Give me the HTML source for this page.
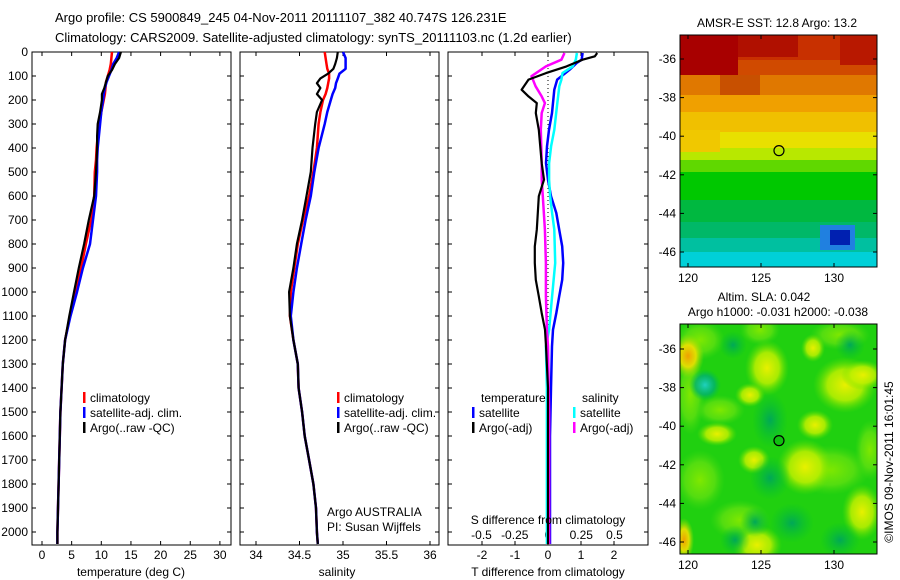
<!DOCTYPE html>
<html><head><meta charset="utf-8">
<style>
html,body{margin:0;padding:0;background:#fff;}
svg{display:block;font-family:"Liberation Sans",sans-serif;}
text{fill:#000;}
</style></head>
<body>
<svg id="fig" width="900" height="580" viewBox="0 0 900 580" xmlns="http://www.w3.org/2000/svg">
<defs>
<radialGradient id="gy" cx="50%" cy="50%" r="50%"><stop offset="0%" stop-color="#e8f000"/><stop offset="55%" stop-color="#c0f000" stop-opacity="0.85"/><stop offset="100%" stop-color="#60e000" stop-opacity="0"/></radialGradient>
<radialGradient id="gl" cx="50%" cy="50%" r="50%"><stop offset="0%" stop-color="#80e800"/><stop offset="60%" stop-color="#60e010" stop-opacity="0.8"/><stop offset="100%" stop-color="#40d810" stop-opacity="0"/></radialGradient>
<radialGradient id="go" cx="50%" cy="50%" r="50%"><stop offset="0%" stop-color="#f0a000"/><stop offset="50%" stop-color="#f0e000" stop-opacity="0.9"/><stop offset="100%" stop-color="#a0e000" stop-opacity="0"/></radialGradient>
<radialGradient id="gd" cx="50%" cy="50%" r="50%"><stop offset="0%" stop-color="#00a858"/><stop offset="100%" stop-color="#00c030" stop-opacity="0"/></radialGradient>
<radialGradient id="gc" cx="50%" cy="50%" r="50%"><stop offset="0%" stop-color="#20d0c0"/><stop offset="60%" stop-color="#00b070" stop-opacity="0.8"/><stop offset="100%" stop-color="#00c040" stop-opacity="0"/></radialGradient>
<clipPath id="m1clip"><rect x="680" y="35" width="197" height="232"/></clipPath>
<clipPath id="m2clip"><rect x="680" y="324" width="197" height="230"/></clipPath>
</defs>
<text x="55" y="22" font-size="13">Argo profile: CS 5900849_245 04-Nov-2011 20111107_382 40.747S 126.231E</text>
<text x="55" y="42" font-size="13">Climatology: CARS2009. Satellite-adjusted climatology: synTS_20111103.nc (1.2d earlier)</text>
<g id="plots"></g>
<g id="maps"></g>
</svg>
<script>
// ---------- data ----------
const tempDepths = [0,25,50,75,100,125,150,175,200,250,300,350,400,450,500,600,700,800,900,1000,1100,1200,1300,1400,1500,1600,1700,1800,1900,2000,2050];
const tempClim   = [11.8,11.7,11.6,11.4,11.1,10.8,10.7,10.6,10.4,10.0,9.7,9.4,9.2,9.1,8.9,8.8,8.3,7.4,6.6,5.7,4.7,3.9,3.5,3.3,3.1,3.0,2.9,2.8,2.7,2.6,2.6];
const tempSat    = [13.0,12.6,12.0,11.7,11.3,10.9,10.6,10.4,10.3,10.0,9.8,9.6,9.4,9.3,9.3,9.1,8.6,8.1,6.9,5.9,4.8,3.9,3.5,3.3,3.1,3.0,2.9,2.8,2.7,2.6,2.6];
const tempArgo   = [13.3,13.0,12.3,11.8,11.1,10.8,10.5,10.1,10.1,9.8,9.4,9.3,9.3,9.2,9.1,8.8,7.9,7.1,6.2,5.4,4.6,3.9,3.5,3.3,3.1,3.0,2.9,2.8,2.7,2.6,2.6];
const salDepths  = [0,25,50,70,90,110,130,150,175,200,250,300,400,500,600,700,800,900,1000,1100,1200,1300,1400,1500,1600,1700,1800,1900,2000,2050];
const salClim    = [34.79,34.80,34.81,34.82,34.84,34.84,34.83,34.82,34.80,34.77,34.74,34.72,34.70,34.66,34.61,34.54,34.48,34.44,34.40,34.39,34.43,34.48,34.49,34.53,34.56,34.61,34.66,34.69,34.70,34.71];
const salSat     = [35.00,35.03,35.03,35.03,34.96,34.94,34.92,34.91,34.88,34.86,34.82,34.79,34.72,34.67,34.63,34.57,34.52,34.47,34.43,34.40,34.43,34.48,34.49,34.53,34.56,34.61,34.66,34.69,34.70,34.71];
const salArgo    = [34.94,34.93,34.91,34.89,34.83,34.74,34.70,34.74,34.70,34.76,34.70,34.68,34.65,34.63,34.58,34.53,34.47,34.43,34.38,34.39,34.43,34.48,34.49,34.53,34.56,34.61,34.66,34.69,34.70,34.71];
const dTSatDepths = [4,32,46,74,115,157,254,324,393,463,532,601,671,740,810,879,949,1018,1088,1157,1226,1400,1600,1800,2000,2050];
const dTSat       = [1.05,1.02,0.87,0.65,0.28,0.19,0.12,0.03,-0.03,-0.06,0,0.09,0.25,0.34,0.43,0.46,0.43,0.34,0.25,0.15,0.12,0.09,0.06,0.06,0.06,0.06];
const dTArgoDepths = [4,18,32,60,88,115,157,185,213,254,324,463,532,601,671,740,810,879,949,1018,1088,1157,1226,1400,1600,1800,2000,2050];
const dTArgo       = [1.49,1.42,1.05,0.56,-0.06,-0.59,-0.80,-0.59,-0.34,-0.37,-0.28,-0.19,-0.12,-0.28,-0.31,-0.34,-0.40,-0.40,-0.37,-0.28,-0.19,-0.09,-0.06,0,0,0,0,0];
const dSSatDepths = [4,32,60,88,115,143,213,324,393,463,532,601,671,740,879,1018,1157,1226,1400,1700,2050];
const dSSat       = [0.217,0.209,0.186,0.109,0.101,0.085,0.07,0.047,0.023,0.008,0.008,0.016,0.031,0.047,0.054,0.031,0.008,-0.016,-0.008,-0.008,-0.008];
const dSArgoDepths = [4,32,60,101,143,185,213,254,324,463,532,601,740,879,1018,1157,1226,1500,2050];
const dSArgo       = [0.124,0.101,-0.016,-0.124,-0.093,-0.047,-0.023,-0.047,-0.054,-0.047,-0.047,-0.039,-0.023,-0.016,-0.016,-0.008,0,0.008,0.008];
const depthTicks = [0,100,200,300,400,500,600,700,800,900,1000,1100,1200,1300,1400,1500,1600,1700,1800,1900,2000];
const tempTicks = [0,5,10,15,20,25,30];
const salTicks = [34,34.5,35,35.5,36];
const tdTicks = [-2,-1,0,1,2];
const sdTicks = [-0.5,-0.25,0,0.25,0.5];
const lonTicks = [120,125,130];
const latTicks = [-36,-38,-40,-42,-44,-46];
const argoLon = 126.231, argoLat = -40.747;

// ---------- scales ----------
const NS = "http://www.w3.org/2000/svg";
const yD = d => 52 + d * 0.24;
const xT = t => 42 + t * 5.93;
const xS = s => 256 + (s - 34) * 87;
const xTd = v => 548 + v * 33;
const xSd = v => 548 + v * 133;
const P = document.getElementById('plots');
const M = document.getElementById('maps');
function mk(tag, attrs, parent, txt){
  const e = document.createElementNS(NS, tag);
  for (const k in attrs) e.setAttribute(k, attrs[k]);
  if (txt !== undefined) e.textContent = txt;
  parent.appendChild(e);
  return e;
}
function line(depths, vals, xf, color, w, name){
  const pts = [];
  for (let i = 0; i < depths.length; i++){
    pts.push(xf(vals[i]).toFixed(1) + ',' + yD(depths[i]).toFixed(1));
  }
  const e = mk('polyline', {points: pts.join(' '), fill:'none', stroke:color, 'stroke-width':w, 'stroke-linejoin':'round'}, P);
  
  
}
function panel(x0, x1, name){
  const r = mk('rect', {x:x0, y:52, width:x1-x0, height:493, fill:'none', stroke:'#000', 'stroke-width':1}, P);
  
  
  depthTicks.forEach(d => {
    mk('line', {x1:x0, x2:x0+4, y1:yD(d), y2:yD(d), stroke:'#000'}, P);
    mk('line', {x1:x1, x2:x1-4, y1:yD(d), y2:yD(d), stroke:'#000'}, P);
  });
}
function xticks(ticks, f, x0, labels, yLab, labelled, name){
  ticks.forEach((t,i) => {
    const x = f(t);
    mk('line', {x1:x, x2:x, y1:52, y2:56, stroke:'#000'}, P);
    mk('line', {x1:x, x2:x, y1:545, y2:541, stroke:'#000'}, P);
    if (labelled){
      const e = mk('text', {x:x, y:yLab, 'font-size':12, 'text-anchor':'middle'}, P, labels[i]);
      
      
    }
  });
}
function legendRow(x, y, color, label, name){
  mk('rect', {x:x, y:y-10, width:2.5, height:11, fill:color}, P);
  const e = mk('text', {x:x+7, y:y, 'font-size':12}, P, label);
  
  
}

// panel 1: temperature
panel(32, 231, 'temperature-panel');
depthTicks.forEach(d => {
  const e = mk('text', {x:28, y:yD(d)+4, 'font-size':12, 'text-anchor':'end'}, P, String(d));
  
  
});
xticks(tempTicks, xT, 32, tempTicks.map(String), 559, true, 'temperature-tick-label');
line(tempDepths, tempClim, xT, '#ff0000', 2.5, 'temperature-climatology-line');
line(tempDepths, tempSat, xT, '#0000ff', 2.5, 'temperature-satellite-line');
line(tempDepths, tempArgo, xT, '#000000', 2.2, 'temperature-argo-line');
legendRow(83, 402, '#ff0000', 'climatology', 'legend-climatology');
legendRow(83, 417, '#0000ff', 'satellite-adj. clim.', 'legend-satellite');
legendRow(83, 432, '#000000', 'Argo(..raw -QC)', 'legend-argo');
mk('text', {x:131, y:576, 'font-size':12, 'text-anchor':'middle'}, P, 'temperature (deg C)');

// panel 2: salinity
panel(240, 439, 'salinity-panel');
xticks(salTicks, xS, 240, ['34','34.5','35','35.5','36'], 559, true, 'salinity-tick-label');
line(salDepths, salClim, xS, '#ff0000', 2.5, 'salinity-climatology-line');
line(salDepths, salSat, xS, '#0000ff', 2.5, 'salinity-satellite-line');
line(salDepths, salArgo, xS, '#000000', 2.2, 'salinity-argo-line');
legendRow(337, 402, '#ff0000', 'climatology', 'legend-climatology');
legendRow(337, 417, '#0000ff', 'satellite-adj. clim.', 'legend-satellite');
legendRow(337, 432, '#000000', 'Argo(..raw -QC)', 'legend-argo');
mk('text', {x:327, y:516, 'font-size':12}, P, 'Argo AUSTRALIA');
mk('text', {x:327, y:531, 'font-size':12}, P, 'PI: Susan Wijffels');
mk('text', {x:337, y:576, 'font-size':12, 'text-anchor':'middle'}, P, 'salinity');

// panel 3: differences
panel(448, 648, 'difference-panel');
xticks(tdTicks, xTd, 448, tdTicks.map(String), 559, true, 'tdiff-tick-label');
sdTicks.forEach(v => {
  const e = mk('text', {x:xSd(v), y:539, 'font-size':12, 'text-anchor':'middle'}, P, String(v));
  
  
});
mk('line', {x1:548, x2:548, y1:52, y2:545, stroke:'#000', 'stroke-dasharray':'1,3'}, P);
line(dTSatDepths, dTSat, xTd, '#0000ff', 2.5, 'tdiff-satellite-line');
line(dSSatDepths, dSSat, xSd, '#00ffff', 2.5, 'sdiff-satellite-line');
line(dSArgoDepths, dSArgo, xSd, '#ff00ff', 2.5, 'sdiff-argo-line');
line(dTArgoDepths, dTArgo, xTd, '#000000', 2.2, 'tdiff-argo-line');
mk('text', {x:481, y:402, 'font-size':12}, P, 'temperature');
mk('text', {x:582, y:402, 'font-size':12}, P, 'salinity');
legendRow(472, 417, '#0000ff', 'satellite', 'legend-tdiff-satellite');
legendRow(472, 432, '#000000', 'Argo(-adj)', 'legend-tdiff-argo');
legendRow(573, 417, '#00ffff', 'satellite', 'legend-sdiff-satellite');
legendRow(573, 432, '#ff00ff', 'Argo(-adj)', 'legend-sdiff-argo');
mk('text', {x:548, y:524, 'font-size':12, 'text-anchor':'middle'}, P, 'S difference from climatology');
mk('text', {x:548, y:576, 'font-size':12, 'text-anchor':'middle'}, P, 'T difference from climatology');

// ---------- maps ----------
function mapAxes(top, bottom, lat0y, name, circleFill){
  const xL = lon => 688 + (lon - 120) * 14.6;
  const yL = lat => lat0y + (-36 - lat) * 19.3;
  const r = mk('rect', {x:680, y:top, width:197, height:bottom-top, fill:'none', stroke:'#000'}, M);
  
  
  latTicks.forEach(l => {
    const y = yL(l);
    mk('line', {x1:680, x2:684, y1:y, y2:y, stroke:'#000'}, M);
    mk('line', {x1:877, x2:873, y1:y, y2:y, stroke:'#000'}, M);
    mk('text', {x:676, y:y+4, 'font-size':12, 'text-anchor':'end'}, M, String(l));
  });
  lonTicks.forEach(l => {
    const x = xL(l);
    mk('line', {x1:x, x2:x, y1:top, y2:top+4, stroke:'#000'}, M);
    mk('line', {x1:x, x2:x, y1:bottom, y2:bottom-4, stroke:'#000'}, M);
    mk('text', {x:x, y:bottom+15, 'font-size':12, 'text-anchor':'middle'}, M, String(l));
  });
  const c = mk('circle', {cx:xL(argoLon), cy:yL(argoLat), r:5, fill:circleFill, stroke:'#000', 'stroke-width':1.2}, M);
  
  
}
// SST map
const g1 = mk('g', {'clip-path':'url(#m1clip)'}, M);


const bands = [[35,'#c83000'],[60,'#d04a00'],[75,'#e07800'],[95,'#f0a000'],[112,'#f0c000'],[132,'#e8e000'],[148,'#b8e800'],[160,'#60d800'],[172,'#00c800'],[200,'#00b840'],[222,'#00b868'],[238,'#00c0a0'],[252,'#00d0d8']];
bands.forEach((b,i) => {
  const h = (i < bands.length-1 ? bands[i+1][0] : 267) - b[0];
  mk('rect', {x:680, y:b[0], width:197, height:h, fill:b[1]}, g1);
});
mk('rect', {x:680, y:35, width:58, height:40, fill:'#a80000'}, g1);
mk('rect', {x:738, y:35, width:60, height:22, fill:'#b01000'}, g1);
mk('rect', {x:840, y:35, width:37, height:30, fill:'#b81800'}, g1);
mk('rect', {x:720, y:75, width:40, height:20, fill:'#c85000'}, g1);
mk('rect', {x:680, y:130, width:40, height:22, fill:'#f0c800'}, g1);
mk('rect', {x:820, y:225, width:35, height:25, fill:'#2080e0'}, g1);
mk('rect', {x:830, y:230, width:20, height:15, fill:'#0020b0'}, g1);
mapAxes(35, 267, 59, 'sst-map', 'none');
mk('text', {x:777, y:27, 'font-size':12, 'text-anchor':'middle'}, M, 'AMSR-E SST: 12.8 Argo: 13.2');
// SLA map
const g2 = mk('g', {'clip-path':'url(#m2clip)'}, M);


mk('rect', {x:680, y:324, width:197, height:230, fill:'#20d010'}, g2);
[[700,340,25,20,'gl'],[690,395,15,40,'gl'],[760,330,20,15,'gl'],[840,335,30,15,'gl'],[700,480,25,30,'gl'],[830,470,40,25,'gl'],[740,520,30,20,'gl'],[720,410,25,15,'gl'],[870,450,15,30,'gl']].forEach(b => mk('ellipse',{cx:b[0],cy:b[1],rx:b[2],ry:b[3],fill:'url(#'+b[4]+')'},g2));
[[688,356,16,22,'go'],[767,368,22,28,'gy'],[813,348,12,14,'gy'],[845,385,32,28,'gy'],[863,375,22,15,'gy'],[815,425,18,15,'gy'],[717,434,20,12,'gy'],[805,467,28,28,'gy'],[862,512,20,28,'gy'],[757,545,25,20,'gy'],[684,540,10,22,'go'],[754,460,16,14,'gy'],[750,395,15,12,'gy']].forEach(b => mk('ellipse',{cx:b[0],cy:b[1],rx:b[2],ry:b[3],fill:'url(#'+b[4]+')'},g2));
[[705,385,16,16,'gc'],[770,478,20,22,'gd'],[755,522,15,15,'gd'],[792,523,22,20,'gd'],[735,540,15,15,'gd'],[840,540,20,18,'gd'],[770,420,18,28,'gd'],[850,345,15,15,'gd'],[733,345,14,14,'gd']].forEach(b => mk('ellipse',{cx:b[0],cy:b[1],rx:b[2],ry:b[3],fill:'url(#'+b[4]+')'},g2));
mapAxes(324, 554, 349, 'sla-map', '#10c010');
mk('text', {x:764, y:301, 'font-size':12, 'text-anchor':'middle'}, M, 'Altim. SLA: 0.042');
mk('text', {x:778, y:316, 'font-size':12, 'text-anchor':'middle'}, M, 'Argo h1000: -0.031 h2000: -0.038');
mk('text', {x:893, y:462, 'font-size':12, 'text-anchor':'middle', transform:'rotate(-90 893 462)'}, M, '©IMOS 09-Nov-2011 16:01:45');
</script>
</body></html>
